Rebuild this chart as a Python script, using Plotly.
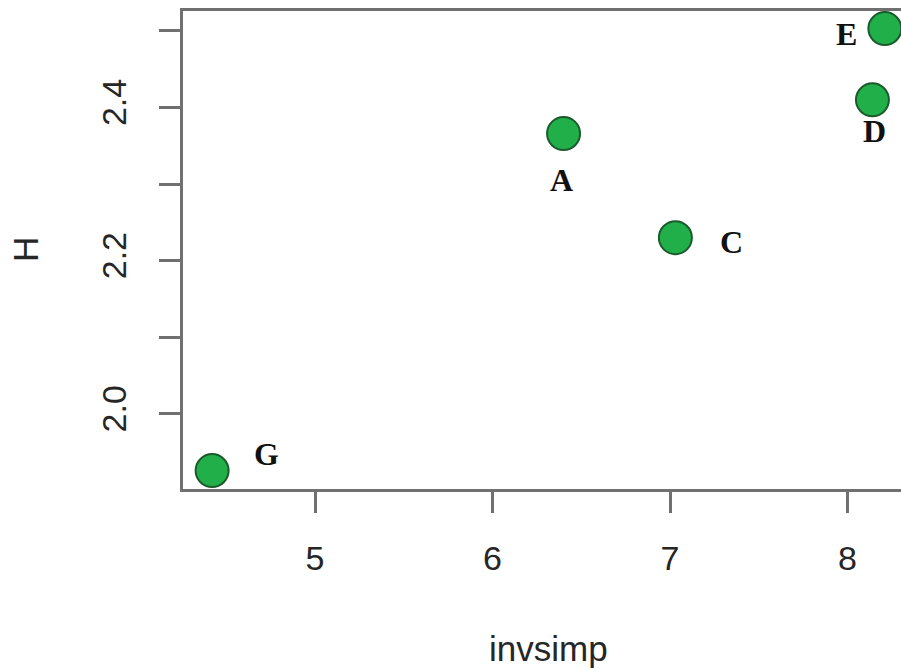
import plotly.graph_objects as go

# Site diversity: inverse Simpson index vs Shannon index
sites = ["A", "C", "D", "E", "G"]
invsimp = [6.40, 7.03, 8.14, 8.21, 4.42]
shannon = [2.366, 2.230, 2.410, 2.503, 1.926]

# label offsets (px) so each site name sits beside its point
label_dx = [-2, 56, 2, -38, 54]
label_dy = [-46, -4, -31, -5, 17]

x_ticks = [5, 6, 7, 8]
y_ticks = [2.0, 2.1, 2.2, 2.3, 2.4, 2.5]
y_tick_text = ["2.0", "", "2.2", "", "2.4", ""]

axis_color = "#707070"
text_color = "#262626"
sans = "Liberation Sans, Arial, sans-serif"

fig = go.Figure()
fig.add_trace(go.Scatter(
    x=invsimp, y=shannon, mode="markers",
    marker=dict(size=33, color="#21AF4A", line=dict(color="#1b5a2c", width=2)),
    hoverinfo="skip", showlegend=False,
))

for name, x, y, dx, dy in zip(sites, invsimp, shannon, label_dx, label_dy):
    fig.add_annotation(
        x=x, y=y, text=f"<b>{name}</b>", showarrow=False,
        xshift=dx, yshift=dy,
        font=dict(family="Liberation Serif, Times New Roman, serif", size=32, color="#111111"),
    )

fig.add_annotation(
    xref="paper", yref="paper", x=0.5097, y=-0.333, text="invsimp",
    showarrow=False, font=dict(family=sans, size=35, color=text_color),
    xanchor="center", yanchor="middle",
)
fig.add_annotation(
    xref="paper", yref="paper", x=-0.22, y=0.5, text="H", textangle=-90,
    showarrow=False, font=dict(family=sans, size=35, color=text_color),
    xanchor="center", yanchor="middle",
)

fig.update_xaxes(
    range=[4.256, 8.301], tickvals=x_ticks, ticks="outside", ticklen=21,
    tickwidth=2.5, tickcolor=axis_color, showline=True, linecolor=axis_color,
    linewidth=2.5, mirror=True, showgrid=False, zeroline=False,
    tickfont=dict(family=sans, size=34, color=text_color), ticklabelstandoff=16,
)
fig.update_yaxes(
    range=[1.902, 2.526], tickvals=y_ticks, ticktext=y_tick_text,
    ticks="outside", ticklen=21, tickwidth=2.5, tickcolor=axis_color,
    showline=True, linecolor=axis_color, linewidth=2.5, showgrid=False,
    zeroline=False, tickangle=-90,
    tickfont=dict(family=sans, size=34, color=text_color), ticklabelstandoff=20,
)

fig.update_layout(
    width=901, height=670,
    margin=dict(l=183, r=0, t=11, b=181),
    paper_bgcolor="white", plot_bgcolor="white",
)

fig.write_html("out.html")
